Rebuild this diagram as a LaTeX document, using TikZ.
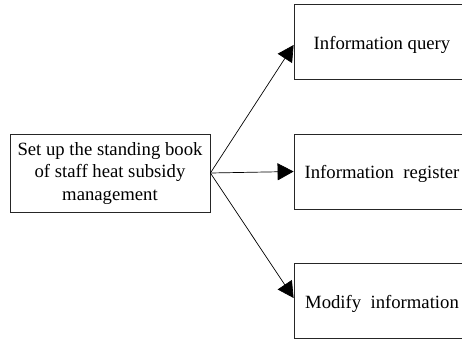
\documentclass[tikz,border=0pt]{standalone}
\usepackage{fontspec}
\setmainfont{Liberation Serif}
\usetikzlibrary{arrows.meta}
\begin{document}
\begin{tikzpicture}[x=1pt,y=-1pt,
  box/.style={draw=black!85,line width=0.8pt,rectangle,inner sep=0pt,
    font=\fontsize{18.7}{22.5}\selectfont},
  leftbox/.style={box,minimum width=200pt,minimum height=78pt,align=center},
  taskbox/.style={box,minimum width=176pt,minimum height=75pt,
    text height=14pt,text depth=0pt},
  link/.style={line width=0.7pt,-{Triangle[length=16pt,width=17pt]}}]
  \useasboundingbox (0,0) rectangle (462,340);
  \clip (0,0) rectangle (462,340);
  \node[leftbox] (book) at (110,173)
    {\raisebox{0pt}[14pt][0pt]{}Set up the standing book\\of staff heat subsidy\\management};
  \node[taskbox] (query) at (382,42) {Information query};
  \node[taskbox] (register) at (382,171.5) {Information\ \ register};
  \node[taskbox] (modify) at (382,301) {Modify\ \ information};
  \draw[link] (book.east) -- ([yshift=-3pt]query.west);
  \draw[link] (book.east) -- (register.west);
  \draw[link] (book.east) -- ([yshift=3pt]modify.west);
\end{tikzpicture}
\end{document}
